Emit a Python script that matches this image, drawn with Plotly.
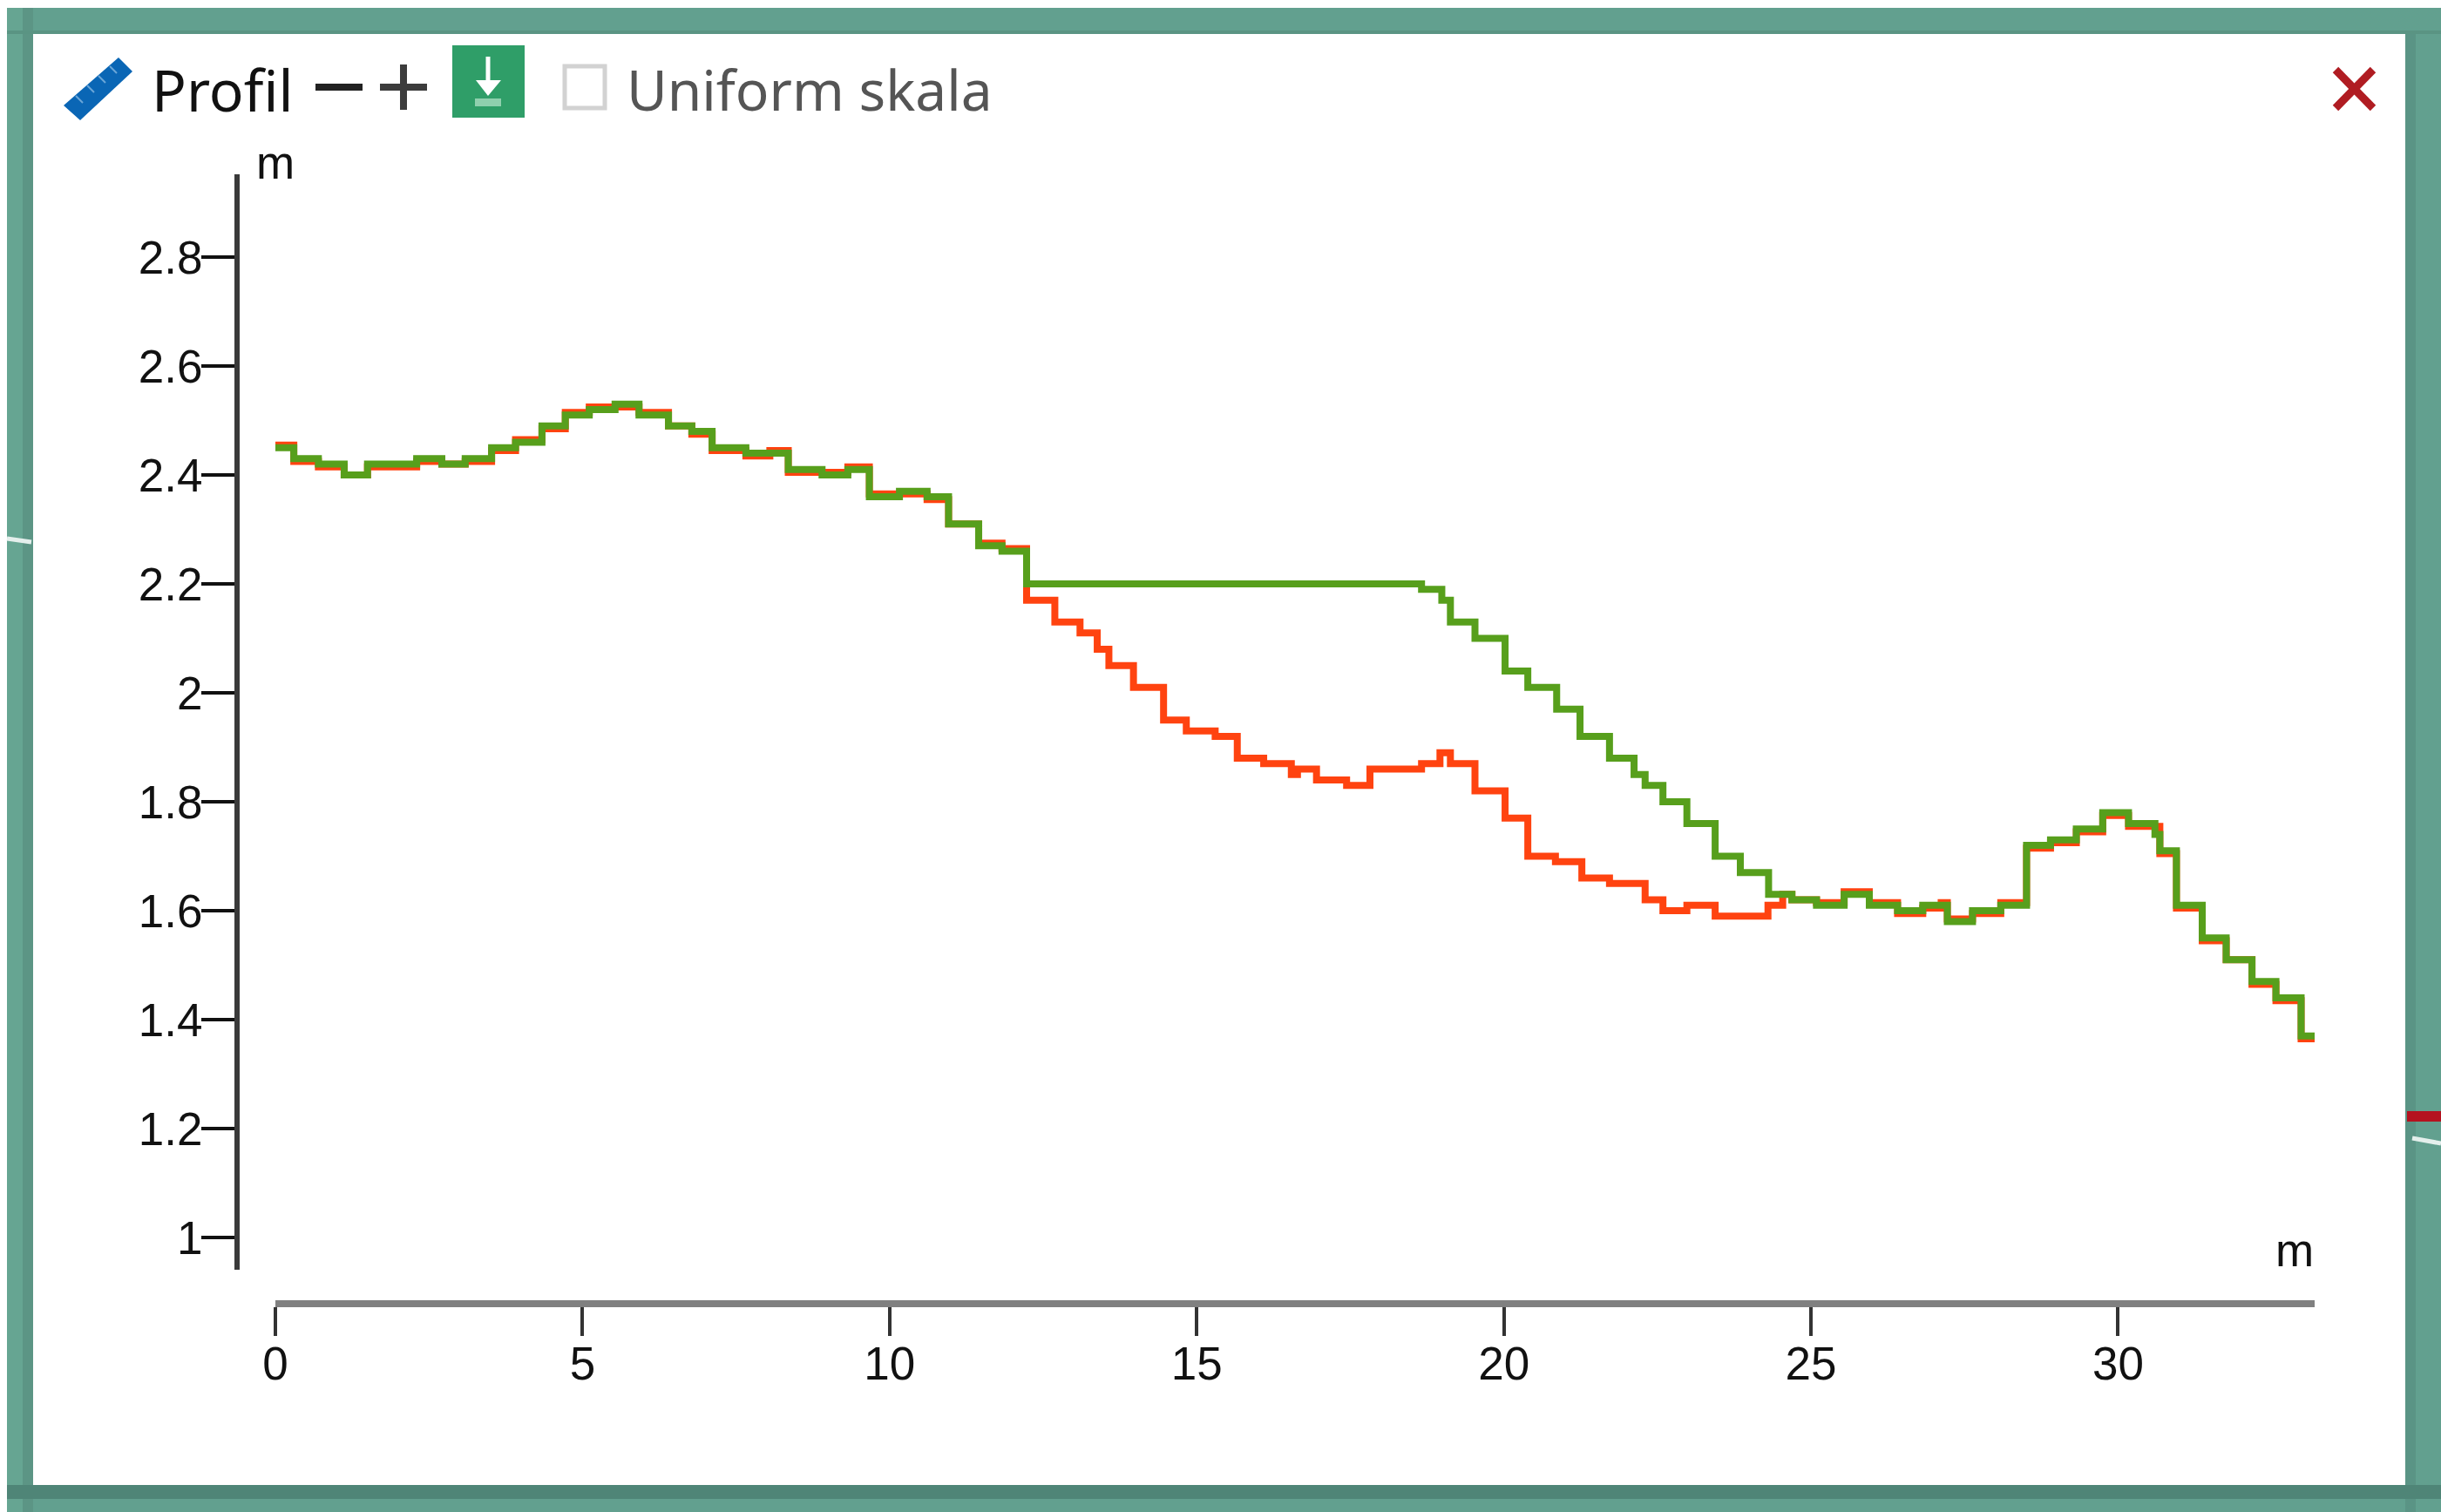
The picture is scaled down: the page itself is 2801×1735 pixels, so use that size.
import plotly.graph_objects as go

# Profile data (metres along the profile -> elevation in metres)
red_x = [0, 0.30, 0.70, 1.12, 1.50, 2.30, 2.71, 3.09, 3.52, 3.91, 4.34, 4.72, 5.11, 5.53, 5.92, 6.40, 6.78, 7.11,
         7.66, 8.05, 8.35, 8.98, 9.32, 9.67, 10.16, 10.61, 10.96, 11.45, 11.83,
         12.23, 12.69, 13.10, 13.38, 13.57, 13.97, 14.46, 14.83, 15.30, 15.66, 16.09, 16.54, 16.64, 16.95, 17.44,
         17.82, 18.27, 18.66, 18.96, 19.13, 19.53, 20.02, 20.39, 20.84, 21.27, 21.72, 22.12, 22.30, 22.59, 22.98,
         23.44, 24.30, 24.54, 24.69, 25.09, 25.54, 25.95, 26.41, 26.82, 27.12, 27.22, 27.63, 28.09, 28.51, 28.90,
         29.32, 29.75, 30.17, 30.68, 30.95, 31.37, 31.76, 32.18, 32.57, 32.98, 33.26]
red_m = [2.455, 2.425, 2.415, 2.40, 2.415, 2.425, 2.42, 2.425, 2.445, 2.465, 2.485, 2.515, 2.525, 2.525, 2.515, 2.49,
         2.475, 2.445, 2.435, 2.445, 2.405, 2.405, 2.415, 2.365, 2.365, 2.355, 2.31, 2.275, 2.265,
         2.17, 2.13, 2.11, 2.08, 2.05, 2.01, 1.95, 1.93, 1.92, 1.88, 1.87, 1.85, 1.86, 1.84, 1.83,
         1.86, 1.86, 1.87, 1.89, 1.87, 1.82, 1.77, 1.70, 1.69, 1.66, 1.65, 1.65, 1.62, 1.60, 1.61,
         1.59, 1.61, 1.63, 1.62, 1.615, 1.635, 1.615, 1.595, 1.605, 1.615, 1.585, 1.595, 1.615, 1.715, 1.725,
         1.745, 1.775, 1.755, 1.705, 1.605, 1.545, 1.51, 1.465, 1.435, 1.365, 1.365]

green_x = [0, 0.30, 0.70, 1.12, 1.50, 2.30, 2.71, 3.09, 3.52, 3.91, 4.34, 4.72, 5.11, 5.53, 5.92, 6.40, 6.78, 7.11,
           7.66, 8.35, 8.90, 9.32, 9.67, 10.16, 10.61, 10.96, 11.45, 11.83,
           12.23, 18.66, 18.99, 19.13, 19.53, 20.02, 20.39, 20.86, 21.24, 21.72, 22.12, 22.30, 22.59, 22.98, 23.44,
           23.85, 24.31, 24.69, 25.09, 25.54, 25.95, 26.41, 26.82, 27.22, 27.63, 28.09, 28.51, 28.90, 29.32, 29.75,
           30.17, 30.60, 30.68, 30.95, 31.37, 31.76, 32.18, 32.57, 32.98, 33.26]
green_m = [2.45, 2.43, 2.42, 2.40, 2.42, 2.43, 2.42, 2.43, 2.45, 2.46, 2.49, 2.51, 2.52, 2.53, 2.51, 2.49, 2.48, 2.45,
           2.44, 2.41, 2.40, 2.41, 2.36, 2.37, 2.36, 2.31, 2.27, 2.26,
           2.20, 2.19, 2.17, 2.13, 2.10, 2.04, 2.01, 1.97, 1.92, 1.88, 1.85, 1.83, 1.80, 1.76, 1.70,
           1.67, 1.63, 1.62, 1.61, 1.63, 1.61, 1.60, 1.61, 1.58, 1.60, 1.61, 1.72, 1.73, 1.75, 1.78,
           1.76, 1.74, 1.71, 1.61, 1.55, 1.51, 1.47, 1.44, 1.37, 1.37]

x_ticks = [0, 5, 10, 15, 20, 25, 30]
y_ticks = [1, 1.2, 1.4, 1.6, 1.8, 2, 2.2, 2.4, 2.6, 2.8]
y_labels = ["1", "1.2", "1.4", "1.6", "1.8", "2", "2.2", "2.4", "2.6", "2.8"]

title_text = "Profil"
checkbox_text = "Uniform skala"
axis_unit = "m"

W, H = 2801, 1735
TEAL = "#62a08f"


def px(x):
    return x / W


def py(y):
    return 1 - y / H


def rect(x0, y0, x1, y1, fill, line=None, lw=0):
    return dict(type="rect", xref="paper", yref="paper", x0=px(x0), x1=px(x1), y0=py(y0), y1=py(y1),
                fillcolor=fill, line=dict(color=line or fill, width=lw), layer="below")


def seg(x0, y0, x1, y1, color, lw):
    return dict(type="line", xref="paper", yref="paper", x0=px(x0), x1=px(x1), y0=py(y0), y1=py(y1),
                line=dict(color=color, width=lw), layer="below")


def poly(points, fill):
    d = "M " + " L ".join(f"{px(a):.5f},{py(b):.5f}" for a, b in points) + " Z"
    return dict(type="path", xref="paper", yref="paper", path=d, fillcolor=fill,
                line=dict(color=fill, width=0), layer="below")


shapes = [
    rect(8, 9, W, H, TEAL),
    rect(8, 9, 26, H, "#66a592"),
    rect(26, 9, 38, H, "#5c9585"),
    rect(8, 35, W, 39, "#5a9483"),
    rect(2760, 39, 2772, H, "#5a9485"),
    rect(8, 1704, W, 1720, "#4f8577"),
    rect(2762, 1275, W, 1287, "#b5121f"),
    seg(8, 618, 36, 622, "#e4efec", 5),
    seg(2768, 1306, W, 1312, "#e4efec", 5),
    rect(38, 39, 2760, 1704, "#ffffff"),
    # ruler icon
    poly([(73, 121), (136, 66), (152, 82), (92, 138)], "#0a66b5"),
    seg(87, 110, 95, 118, "#6ba6d8", 2),
    seg(100, 98, 108, 106, "#6ba6d8", 2),
    seg(113, 87, 121, 95, "#6ba6d8", 2),
    seg(126, 76, 134, 84, "#6ba6d8", 2),
    # minus / plus
    seg(362, 100, 416, 100, "#222222", 8),
    seg(436, 100, 490, 100, "#3c3c3c", 8),
    seg(463, 74, 463, 126, "#3c3c3c", 8),
    # download button
    rect(519, 52, 602, 135, "#2f9e68"),
    seg(560, 65, 560, 106, "#ffffff", 5),
    poly([(546, 92), (575, 92), (560, 110)], "#ffffff"),
    rect(545, 113, 575, 122, "#8fd0ae"),
    # checkbox
    rect(648, 76, 694, 124, "#ffffff", "#d2d2d2", 5),
    # close
    seg(2680, 80, 2723, 124, "#b01c22", 9),
    seg(2723, 80, 2680, 124, "#b01c22", 9),
]

fig = go.Figure()
fig.add_trace(go.Scatter(x=red_x, y=red_m, mode="lines", line=dict(color="#ff4310", width=8, shape="hv"),
                         hoverinfo="skip", showlegend=False))
fig.add_trace(go.Scatter(x=green_x, y=green_m, mode="lines", line=dict(color="#579f1c", width=8, shape="hv"),
                         hoverinfo="skip", showlegend=False))

tick_font = dict(family="Liberation Sans", size=53, color="#111111")
ui_font = "Noto Sans"

annotations = [
    dict(text=title_text, x=px(172), y=py(102), xref="paper", yref="paper", xanchor="left", yanchor="middle",
         showarrow=False, font=dict(family=ui_font, size=66, color="#111111")),
    dict(text=checkbox_text, x=px(717), y=py(102), xref="paper", yref="paper", xanchor="left", yanchor="middle",
         showarrow=False, font=dict(family=ui_font, size=64, color="#555555")),
    dict(text=axis_unit, x=px(316), y=py(186), xref="paper", yref="paper", xanchor="center", yanchor="middle",
         showarrow=False, font=tick_font),
    dict(text=axis_unit, x=px(2633), y=py(1434), xref="paper", yref="paper", xanchor="center", yanchor="middle",
         showarrow=False, font=tick_font),
]

fig.update_layout(
    width=W, height=H,
    margin=dict(l=0, r=0, t=0, b=0, pad=0),
    paper_bgcolor="#ffffff", plot_bgcolor="rgba(0,0,0,0)",
    shapes=shapes, annotations=annotations, showlegend=False,
    xaxis=dict(domain=[px(316), px(2656)], range=[0, 33.2], anchor="free", position=py(1496), automargin=False,
               tickmode="array", tickvals=x_ticks, ticktext=[str(t) for t in x_ticks],
               ticks="outside", ticklen=33, tickwidth=4, tickcolor="#333333", ticklabelstandoff=-14,
               showline=True, linecolor="#808080", linewidth=8, showgrid=False, zeroline=False,
               tickfont=tick_font),
    yaxis=dict(domain=[py(1457), py(200)], range=[0.9408, 2.952], anchor="free", position=px(272), automargin=False,
               tickmode="array", tickvals=y_ticks, ticktext=y_labels,
               ticks="outside", ticklen=38, tickwidth=4, tickcolor="#111111", ticklabelstandoff=-12,
               showline=True, linecolor="#3a3a3a", linewidth=6, showgrid=False, zeroline=False,
               tickfont=tick_font),
)

fig.write_html("out.html", config=dict(displayModeBar=False),
               post_script="document.body.style.margin='0';document.documentElement.style.overflow='hidden';")
